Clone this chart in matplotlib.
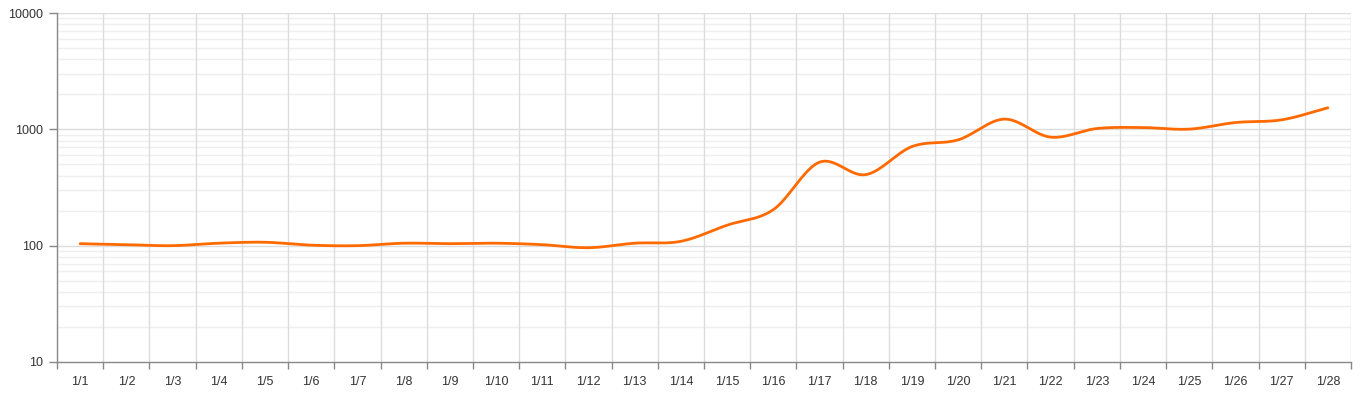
import numpy as np
import matplotlib
matplotlib.use("Agg")
import matplotlib.pyplot as plt
from matplotlib.ticker import FixedLocator, NullFormatter, FixedFormatter

days = ["1/%d" % d for d in range(1, 29)]
values = [104, 102, 100, 105, 107, 101, 100, 105, 104, 105, 102, 96, 105, 109,
          150, 204, 522, 408, 711, 812, 1224, 857, 1016, 1036, 1004, 1144, 1207, 1531]

LINE = "#ff6a00"


def smooth(xs, ys, n=20, t=0.5):
    """Catmull-Rom curve through the points (for a spline look)."""
    xs = np.asarray(xs, float)
    ys = np.asarray(ys, float)
    px = np.concatenate([[2 * xs[0] - xs[1]], xs, [2 * xs[-1] - xs[-2]]])
    py = np.concatenate([[2 * ys[0] - ys[1]], ys, [2 * ys[-1] - ys[-2]]])
    ox, oy = [], []
    for i in range(1, len(px) - 2):
        s = np.linspace(0, 1, n, endpoint=False)
        for p, out in ((px, ox), (py, oy)):
            p0, p1, p2, p3 = p[i - 1], p[i], p[i + 1], p[i + 2]
            m1 = t * (p2 - p0)
            m2 = t * (p3 - p1)
            h00 = 2 * s**3 - 3 * s**2 + 1
            h10 = s**3 - 2 * s**2 + s
            h01 = -2 * s**3 + 3 * s**2
            h11 = s**3 - s**2
            out.extend(h00 * p1 + h10 * m1 + h01 * p2 + h11 * m2)
    ox.append(xs[-1])
    oy.append(ys[-1])
    return np.array(ox), np.array(oy)


fig = plt.figure(figsize=(13.72, 4.09), dpi=100)
ax = fig.add_axes([57 / 1372, 47 / 409, 1294 / 1372, 349 / 409])

x = np.arange(len(days))
sx, sy = smooth(x, np.log10(values))
ax.plot(sx, 10 ** sy, color=LINE, lw=2, solid_capstyle="round", zorder=3)

ax.set_yscale("log")
ax.set_ylim(10, 10000)
ax.set_xlim(-0.5, len(days) - 0.5)

# vertical grid at category edges
edges = np.arange(len(days) + 1) - 0.5
for e in edges[1:-1]:
    ax.axvline(e, color="#dcdcdc", lw=1, zorder=1)
ax.axvline(edges[-1], color="#dcdcdc", lw=1, zorder=1)

# horizontal grid
for dec in [10, 100, 1000]:
    for k in range(2, 10):
        ax.axhline(dec * k, color="#efefef", lw=1, zorder=0)
for dec in [100, 1000, 10000]:
    ax.axhline(dec, color="#dcdcdc", lw=1, zorder=1)

ax.yaxis.set_major_locator(FixedLocator([10, 100, 1000, 10000]))
ax.yaxis.set_major_formatter(FixedFormatter(["10", "100", "1000", "10000"]))
ax.yaxis.set_minor_locator(FixedLocator([]))
ax.yaxis.set_minor_formatter(NullFormatter())

ax.set_xticks(edges)
ax.set_xticklabels([])
ax.set_xticks(x, minor=True)
ax.set_xticklabels(days, minor=True)
ax.tick_params(axis="x", which="major", length=5, color="#888888", width=1)
ax.tick_params(axis="x", which="minor", length=0, pad=10, labelsize=9, labelcolor="#333333")
ax.tick_params(axis="y", which="major", length=6, color="#888888", width=1,
               pad=4, labelsize=9, labelcolor="#333333")

for side in ["top", "right"]:
    ax.spines[side].set_visible(False)
for side in ["left", "bottom"]:
    ax.spines[side].set_color("#888888")
    ax.spines[side].set_linewidth(1)

for lab in ax.get_xticklabels(minor=True) + ax.get_yticklabels():
    lab.set_fontfamily(["Liberation Sans", "DejaVu Sans"])

fig.savefig("out.png", dpi=100)
